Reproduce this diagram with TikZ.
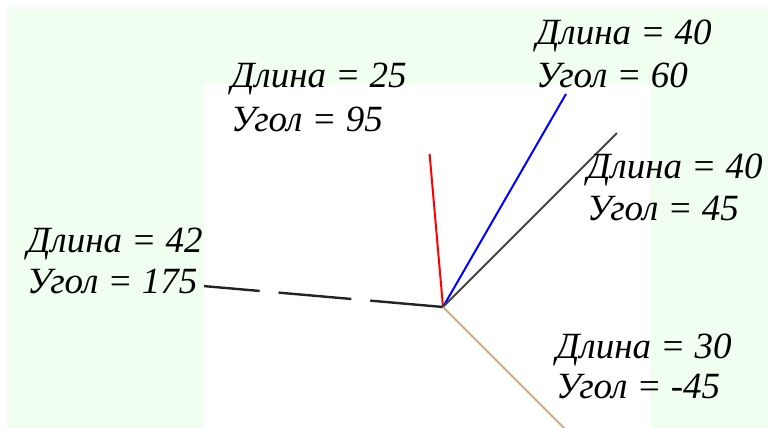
\documentclass[tikz,border=0pt]{standalone}
\usepackage{fontspec}
\setmainfont{Liberation Serif}
\usetikzlibrary{positioning,calc}
\definecolor{canvasgreen}{RGB}{240,255,240}
\definecolor{armtan}{RGB}{205,175,140}
\definecolor{armgray}{RGB}{70,70,70}
\definecolor{armdark}{RGB}{35,35,35}
\tikzset{
  lbl/.style={inner sep=0pt, font=\fontsize{37}{44}\selectfont\itshape, anchor=base west},
  arm/.style={line width=2pt},
}
\begin{document}
\begin{tikzpicture}[x=1pt,y=1pt]
\useasboundingbox (0,0) rectangle (768,-428);
\fill[canvasgreen] (7,-7) rectangle (768,-428);
\fill[white] (204,-85) rectangle (650,-428);

% pivot and the ends of the arms (6.15 px per unit of length)
\coordinate (o) at (443,-307);
\coordinate (a95) at ($(o)+(95:25*6.15)$);
\coordinate (a60) at ($(o)+(60:40*6.15)$);
\coordinate (a45) at ($(o)+(45:40*6.15)$);
\coordinate (a175) at ($(o)+(175:42*6.15)$);
\coordinate (am45) at ($(o)+(-45:30*6.15)$);

\begin{scope}
  \clip (204,-85) rectangle (650,-428);
  \draw[arm, red] (o) -- (a95);
  \draw[arm, blue] (o) -- (a60);
  \draw[arm, armgray] (o) -- (a45);
  \draw[arm, armdark, line width=2.4pt, dash pattern=on 73pt off 19pt] (o) -- (a175);
  \draw[arm, armtan] (o) -- (am45);
\end{scope}

\node[lbl] (len95) at (231,-88) {Длина = 25};
\node[lbl, below=43pt of len95.base west, anchor=base west] (ang95) {Угол = 95};

\node[lbl] (len60) at (536,-45) {Длина = 40};
\node[lbl, below=42pt of len60.base west, anchor=base west] (ang60) {Угол = 60};

\node[lbl] (len45) at (587,-178) {Длина = 40};
\node[lbl, below=42pt of len45.base west, anchor=base west] (ang45) {Угол = 45};

\node[lbl] (len175) at (27,-252) {Длина = 42};
\node[lbl, below=41pt of len175.base west, anchor=base west] (ang175) {Угол = 175};

\node[lbl] (lenm45) at (556,-358) {Длина = 30};
\node[lbl, below=40pt of lenm45.base west, anchor=base west] (angm45) {Угол = -45};

\end{tikzpicture}
\end{document}
